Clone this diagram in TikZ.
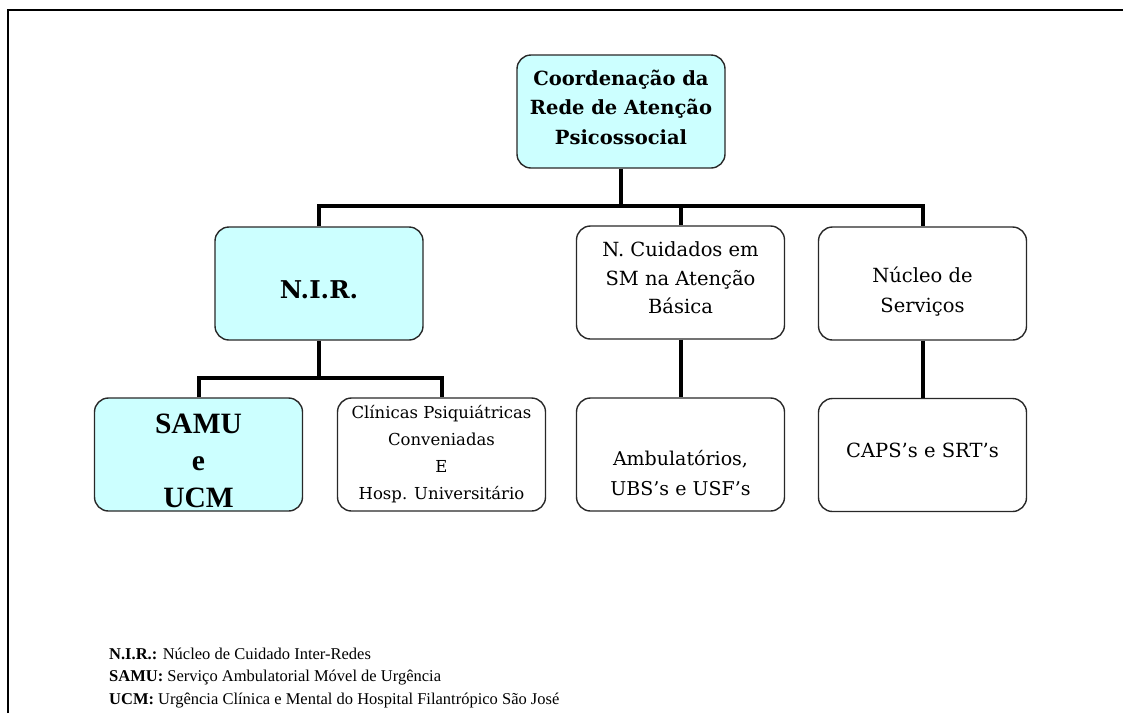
\documentclass[tikz,border=0pt]{standalone}
\usepackage{fontspec}
\setmainfont{Liberation Serif}
\newfontfamily\boxfont{DejaVu Serif}
\definecolor{boxcyan}{RGB}{204,255,255}
\definecolor{boxline}{RGB}{40,40,40}
\tikzset{
  orgbox/.style={draw=boxline, line width=1.4pt, rounded corners=14pt,
    minimum width=208pt, minimum height=113pt, inner sep=2pt, align=center,
    text=black, fill=white},
  cyanbox/.style={orgbox, fill=boxcyan},
  conn/.style={draw=black, line width=4pt},
}
\newcommand{\shifted}[3]{\smash{\raisebox{#1}{\parbox{204pt}{\centering\baselineskip=#2 #3}}}}
\begin{document}
\begin{tikzpicture}[x=1pt,y=-1pt]
\useasboundingbox (0,0) rectangle (1123,713);
% frame (top and left edges visible)
\draw[line width=2pt] (8,713) -- (8,10) -- (1123,10);

\node[cyanbox, font=\boxfont\bfseries\fontsize{19.5}{29.5}\selectfont] (top) at (621,111.5)
  {\shifted{-0.9pt}{29.5pt}{Coordenação da\\Rede de Atenção\\Psicossocial}};
\node[cyanbox, font=\boxfont\bfseries\fontsize{24.5}{28}\selectfont] (nir) at (319,283.5)
  {\shifted{-12pt}{28pt}{N.I.R.}};
\node[orgbox, font=\boxfont\fontsize{19.5}{28.5}\selectfont] (ncu) at (680.5,282.5)
  {\shifted{-0.9pt}{28.5pt}{N. Cuidados em\\SM na Atenção\\Básica}};
\node[orgbox, font=\boxfont\fontsize{19.5}{30}\selectfont] (nuc) at (922.5,283.5)
  {\shifted{-12.9pt}{30pt}{Núcleo de\\Serviços}};
\node[cyanbox, font=\bfseries\fontsize{29.5}{37}\selectfont] (samu) at (198.5,454.5)
  {\shifted{-12.4pt}{37pt}{SAMU\\e\\UCM}};
\node[orgbox, font=\boxfont\fontsize{16.5}{27}\selectfont] (clin) at (441.5,454.5)
  {\shifted{-4.1pt}{27pt}{Clínicas Psiquiátricas\\Conveniadas\\E\\Hosp. Universitário}};
\node[orgbox, font=\boxfont\fontsize{19}{30}\selectfont] (amb) at (680.5,454.5)
  {\shifted{-22.7pt}{30pt}{Ambulatórios,\\UBS’s e USF’s}};
\node[orgbox, font=\boxfont\fontsize{19.5}{29}\selectfont] (caps) at (922.5,455)
  {\shifted{-0.9pt}{29pt}{CAPS’s e SRT’s}};

% connectors
\coordinate (j1) at (621,206);
\coordinate (j2) at (319,378);
\draw[conn] (top.south) -- (j1);
\draw[conn] (nir.north) |- (j1) -| (nuc.north);
\draw[conn] (ncu.north) -- (ncu.north |- j1);
\draw[conn] (nir.south) -- (j2);
\draw[conn] (samu.north) |- (j2) -| (clin.north);
\draw[conn] (ncu.south) -- (amb.north);
\draw[conn] (nuc.south) -- (caps.north);

% legend
\node[anchor=base west, align=left, inner sep=0pt, font=\fontsize{16.5}{22.5}\selectfont] (legend) at (109,704)
  {\textbf{N.I.R.:} Núcleo de Cuidado Inter-Redes\\
   \textbf{SAMU:} Serviço Ambulatorial Móvel de Urgência\\
   \textbf{UCM:} Urgência Clínica e Mental do Hospital Filantrópico São José};
\end{tikzpicture}
\end{document}
